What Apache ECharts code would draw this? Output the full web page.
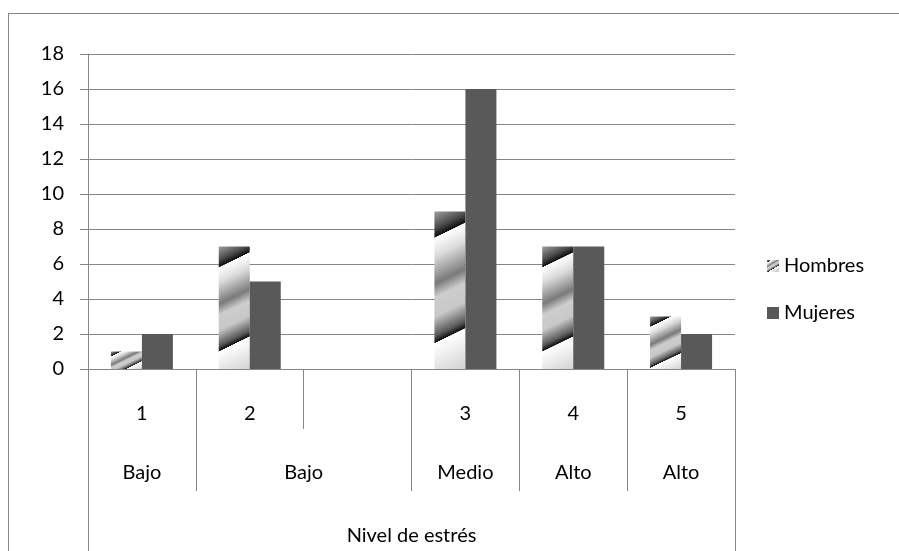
<!DOCTYPE html>
<html>
<head>
<meta charset="utf-8">
<script src="https://cdn.jsdelivr.net/npm/echarts@6/dist/echarts.min.js"></script>
<style>
  html, body { margin: 0; padding: 0; background: #fff; }
  #frame { position: absolute; left: 8px; top: 13px; width: 1200px; height: 900px;
           border-left: 1px solid #868686; border-top: 1px solid #868686; }
  #chart { position: absolute; left: 0; top: 0; width: 899px; height: 551px; }
</style>
</head>
<body>
<div id="frame"></div>
<div id="chart"></div>
<script>
// ---- data ----
const categories = ['1', '2', '', '3', '4', '5'];
const hombres = [1, 7, null, 9, 7, 3];
const mujeres = [2, 5, null, 16, 7, 2];
const groupNames = ['Bajo', 'Bajo', 'Medio', 'Alto', 'Alto'];
const groupSpans = [1, 2, 1, 1, 1];
const axisTitle = 'Nivel de estrés';
const seriesNames = ['Hombres', 'Mujeres'];
const yTicks = [0, 2, 4, 6, 8, 10, 12, 14, 16, 18];

// ---- derived ----
const bounds = [0];
groupSpans.forEach(s => bounds.push(bounds[bounds.length - 1] + s));
const centers = groupSpans.map((s, i) => bounds[i] + s / 2);

const FONT = 'Lato';
const GRAY = '#868686';
const TOP = 54, AXIS_Y = 372;
const pxPerUnit = (AXIS_Y - TOP) / yTicks[yTicks.length - 1];
const BAR_W = 31;

const stops = [
  { offset: 0.00, color: '#a0a0a0' },
  { offset: 0.10, color: '#4a4a4a' },
  { offset: 0.15, color: '#0e0e0e' },
  { offset: 0.153, color: '#ffffff' },
  { offset: 0.26, color: '#dcdcdc' },
  { offset: 0.42, color: '#7a7a7a' },
  { offset: 0.50, color: '#cdcdcd' },
  { offset: 0.61, color: '#c8c8c8' },
  { offset: 0.72, color: '#5a5a5a' },
  { offset: 0.76, color: '#0e0e0e' },
  { offset: 0.763, color: '#ffffff' },
  { offset: 1.00, color: '#d2d2d2' }
];
function stripeGradient(v) {
  const H = Math.max(v * pxPerUnit, 1);
  const ux = 15 / Math.hypot(15, 31), uy = 31 / Math.hypot(15, 31);
  const L = BAR_W * ux + H * uy;
  return { type: 'linear', x: 0, y: 0, x2: L * ux / BAR_W, y2: L * uy / H,
           colorStops: stops, global: false };
}

const chart = echarts.init(document.getElementById('chart'));
chart.setOption({
  animation: false,
  textStyle: { fontFamily: FONT },
  grid: { left: 88, right: 164, top: TOP, bottom: 551 - AXIS_Y, containLabel: false },
  legend: {
    orient: 'vertical', left: 762, top: 251,
    itemWidth: 12, itemHeight: 12, itemGap: 27,
    icon: 'rect',
    textStyle: { fontFamily: FONT, fontSize: 20, color: '#000' },
    data: seriesNames
  },
  xAxis: [
    {
      type: 'category', data: categories, position: 'bottom',
      axisLine: { show: true, lineStyle: { color: GRAY, width: 1 } },
      axisTick: { show: true, length: 60, interval: 0, lineStyle: { color: GRAY } },
      axisLabel: { interval: 0, margin: 35, fontFamily: FONT, fontSize: 20, color: '#000' },
      splitLine: { show: false }
    },
    {
      type: 'value', min: 0, max: categories.length, position: 'bottom',
      axisLine: { show: false },
      axisTick: { show: true, customValues: bounds, length: 122, lineStyle: { color: GRAY } },
      axisLabel: {
        customValues: centers, margin: 94, fontFamily: FONT, fontSize: 20, color: '#000',
        formatter: v => { const i = centers.indexOf(v); return i >= 0 ? groupNames[i] : ''; }
      },
      splitLine: { show: false }
    },
    {
      type: 'value', min: 0, max: categories.length, position: 'bottom',
      axisLine: { show: false },
      axisTick: { show: true, customValues: [0, categories.length], length: 200, lineStyle: { color: GRAY } },
      axisLabel: { show: false },
      splitLine: { show: false },
      name: axisTitle, nameLocation: 'middle', nameGap: 157,
      nameTextStyle: { fontFamily: FONT, fontSize: 20, color: '#000' }
    }
  ],
  yAxis: {
    type: 'value', min: 0, max: 18, interval: 2,
    axisLine: { show: true, lineStyle: { color: GRAY } },
    axisTick: { show: true, length: 8, lineStyle: { color: GRAY } },
    axisLabel: { margin: 24, fontFamily: FONT, fontSize: 20, color: '#000' },
    splitLine: { show: true, lineStyle: { color: GRAY, width: 1 } }
  },
  series: [
    {
      name: seriesNames[0], type: 'bar', xAxisIndex: 0, barWidth: BAR_W, barGap: '0%',
      itemStyle: { color: { type: 'linear', x: 0, y: 0, x2: 0.6, y2: 1, colorStops: stops } },
      data: hombres.map(v => v == null ? null : { value: v, itemStyle: { color: stripeGradient(v) } })
    },
    {
      name: seriesNames[1], type: 'bar', xAxisIndex: 0, barWidth: BAR_W, barGap: '0%',
      itemStyle: { color: '#595959' },
      data: mujeres
    }
  ]
});
</script>
</body>
</html>
